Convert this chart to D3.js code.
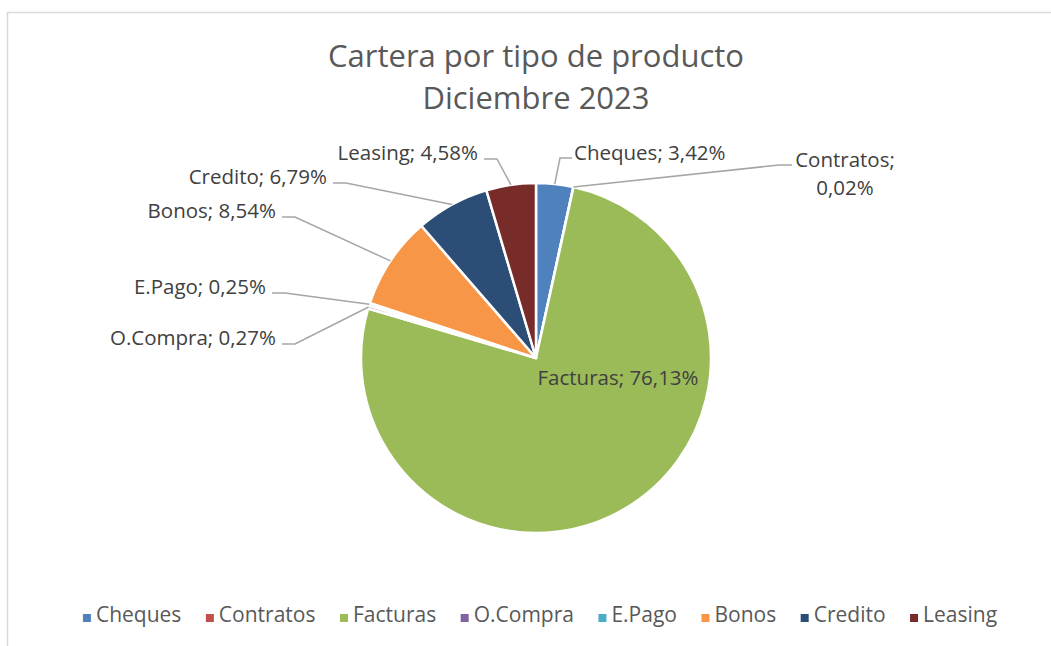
<!DOCTYPE html>
<html>
<head>
    <meta charset="UTF-8">
    <title>Cartera por tipo de producto</title>
    <script src="https://cdn.jsdelivr.net/npm/d3@7/dist/d3.min.js"></script>
    <style>
        body { margin: 0; background: #fff; }
        text { font-family: "Open Sans", "Noto Sans", sans-serif; }
    </style>
</head>
<body>
<div id="chart"></div>
<script>
    // datos del grafico
    var categories = ["Cheques", "Contratos", "Facturas", "O.Compra", "E.Pago", "Bonos", "Credito", "Leasing"];
    var shares = [3.42, 0.02, 76.13, 0.27, 0.25, 8.54, 6.79, 4.58];
    var colors = ["#4f81bd", "#c0504d", "#9bbb59", "#8064a2", "#4bacc6", "#f79646", "#2c4d75", "#772c2a"];
    var titleLines = ["Cartera por tipo de producto", "Diciembre 2023"];

    // donde van las etiquetas (x del borde, linea base)
    var labelLayout = [
        {x: 574, y: 160, side: "right"},
        {x: 845, y: 167, side: "wrap"},
        {x: 618, y: 385, side: "inside"},
        {x: 276, y: 345, side: "left"},
        {x: 266, y: 294, side: "left"},
        {x: 276, y: 218, side: "left"},
        {x: 327, y: 184, side: "left"},
        {x: 478, y: 160, side: "left"}
    ];

    var W = 1051, H = 646;
    var cx = 536, cy = 358, R = 175;

    var fmt = function(v){ return v.toFixed(2).replace(".", ","); };

    var svg = d3.select("#chart").append("svg")
            .attr("width", W)
            .attr("height", H);

    svg.append("rect")
            .attr("x", 7.5).attr("y", 12.5)
            .attr("width", W + 20).attr("height", H + 20)
            .attr("fill", "none")
            .attr("stroke", "#d9d9d9")
            .attr("stroke-width", 1.5);

    svg.selectAll("text.title")
            .data(titleLines)
            .enter().append("text")
            .attr("class", "title")
            .attr("x", cx)
            .attr("y", function(d, i){ return 67 + i * 42; })
            .attr("text-anchor", "middle")
            .attr("font-size", 31)
            .attr("fill", "#595959")
            .text(function(d){ return d; });

    var pie = d3.pie().sort(null).value(function(d){ return d; });
    var arcs = pie(shares);
    var arc = d3.arc().innerRadius(0).outerRadius(R);

    var g = svg.append("g").attr("transform", "translate(" + cx + "," + cy + ")");
    g.selectAll("path")
            .data(arcs)
            .enter().append("path")
            .attr("d", arc)
            .attr("fill", function(d, i){ return colors[i]; })
            .attr("stroke", "#fff")
            .attr("stroke-width", 2.5)
            .attr("stroke-linejoin", "round");

    var labelSize = 20.5;
    var line = d3.line();

    arcs.forEach(function(a, i){
        var lay = labelLayout[i];
        var txt = categories[i] + "; " + fmt(shares[i]) + "%";
        var mid = (a.startAngle + a.endAngle) / 2;
        var sx = cx + R * Math.sin(mid), sy = cy - R * Math.cos(mid);
        var t, pts;

        if (lay.side === "inside") {
            svg.append("text")
                    .attr("x", lay.x).attr("y", lay.y)
                    .attr("text-anchor", "middle")
                    .attr("font-size", labelSize)
                    .attr("fill", "#404040")
                    .text(txt);
            return;
        }
        if (lay.side === "wrap") {
            t = svg.append("text")
                    .attr("text-anchor", "middle")
                    .attr("font-size", labelSize)
                    .attr("fill", "#404040");
            t.append("tspan").attr("x", lay.x).attr("y", lay.y).text(categories[i] + ";");
            t.append("tspan").attr("x", lay.x).attr("y", lay.y + 28).text(fmt(shares[i]) + "%");
            var w = t.select("tspan").node().getComputedTextLength();
            var ex = lay.x - w / 2 - 3;
            pts = [[sx, sy], [ex - 13, lay.y - 2], [ex, lay.y - 2]];
        } else if (lay.side === "right") {
            svg.append("text")
                    .attr("x", lay.x).attr("y", lay.y)
                    .attr("font-size", labelSize)
                    .attr("fill", "#404040")
                    .text(txt);
            pts = [[sx, sy], [lay.x - 14, lay.y - 2], [lay.x - 2, lay.y - 2]];
        } else {
            svg.append("text")
                    .attr("x", lay.x).attr("y", lay.y)
                    .attr("text-anchor", "end")
                    .attr("font-size", labelSize)
                    .attr("fill", "#404040")
                    .text(txt);
            pts = [[sx, sy], [lay.x + 19, lay.y - 1], [lay.x + 6, lay.y - 1]];
        }
        svg.append("path")
                .attr("d", line(pts))
                .attr("fill", "none")
                .attr("stroke", "#a6a6a6")
                .attr("stroke-width", 1.5);
    });

    // leyenda
    var leg = svg.append("g");
    var x = 0, gap = 24.5;
    categories.forEach(function(c, i){
        leg.append("rect")
                .attr("x", x).attr("y", -8)
                .attr("width", 8).attr("height", 8)
                .attr("fill", colors[i]);
        var lt = leg.append("text")
                .attr("x", x + 13).attr("y", 0)
                .attr("font-size", 21)
                .attr("fill", "#595959")
                .text(c);
        x += 13 + lt.node().getComputedTextLength() + gap;
    });
    x -= gap;
    leg.attr("transform", "translate(" + (540 - x / 2) + ",622)");
</script>
</body>
</html>
